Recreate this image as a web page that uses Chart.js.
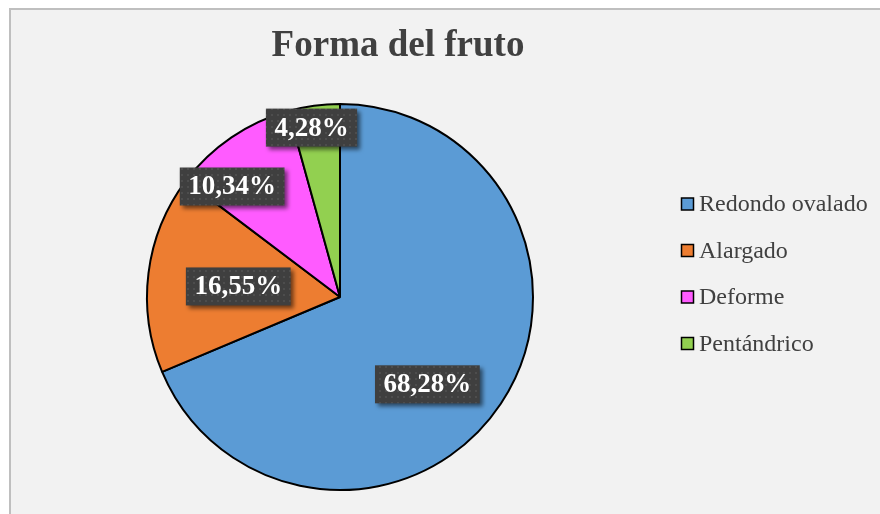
<!DOCTYPE html>
<html>
<head>
<meta charset="utf-8">
<script src="https://cdn.jsdelivr.net/npm/chart.js@4.4.9/dist/chart.umd.min.js"></script>
<style>
  html, body { margin: 0; padding: 0; background: #ffffff; }
  #frame {
    position: absolute;
    left: 9px;
    top: 8px;
    width: 869px;
    height: 504px;
    border-left: 2px solid #bfbfbf;
    border-top: 2px solid #bfbfbf;
    background: #f2f2f2;
  }
  canvas { display: block; }
</style>
</head>
<body>
<div id="frame"><canvas id="chart" width="869" height="504"></canvas></div>
<script>
const titleText = "Forma del fruto";
const categories = ["Redondo ovalado", "Alargado", "Deforme", "Pentándrico"];
const shares = [68.28, 16.55, 10.34, 4.28];
const sliceColors = ["#5b9bd5", "#ed7d31", "#ff5bff", "#92d050"];

// where each data label sits: angle shift from the slice middle (deg) and radius fraction
const labelShift = [11.4, -1.2, -10.1, -1.8];
const labelRadius = [0.64, 0.53, 0.80, 0.89];

const fmt = (v) => v.toFixed(2).replace(".", ",") + "%";

function makeDotPattern(ctx) {
  const p = document.createElement("canvas");
  p.width = 6;
  p.height = 6;
  const pc = p.getContext("2d");
  pc.fillStyle = "#3f3f3f";
  pc.fillRect(0, 0, 6, 6);
  pc.fillStyle = "#4d4d4d";
  pc.fillRect(2, 2, 2, 2);
  return ctx.createPattern(p, "repeat");
}

const decorations = {
  id: "decorations",
  afterDraw(chart) {
    const ctx = chart.ctx;
    const meta = chart.getDatasetMeta(0);

    // title
    ctx.save();
    ctx.fillStyle = "#404040";
    ctx.font = "bold 37px 'Liberation Serif', 'Times New Roman', serif";
    ctx.textAlign = "center";
    ctx.textBaseline = "middle";
    ctx.fillText(titleText, 387, 36);
    ctx.restore();

    // data labels
    const pattern = makeDotPattern(ctx);
    meta.data.forEach((arc, i) => {
      const mid = (arc.startAngle + arc.endAngle) / 2 + labelShift[i] * Math.PI / 180;
      const r = arc.outerRadius * labelRadius[i];
      const x = arc.x + Math.cos(mid) * r;
      const y = arc.y + Math.sin(mid) * r;
      const text = fmt(shares[i]);

      ctx.save();
      ctx.font = "bold 27px 'Liberation Serif', 'Times New Roman', serif";
      const w = ctx.measureText(text).width + 17;
      const h = 38;
      ctx.shadowColor = "rgba(0,0,0,0.55)";
      ctx.shadowBlur = 4;
      ctx.shadowOffsetX = 3;
      ctx.shadowOffsetY = 3;
      ctx.fillStyle = pattern;
      ctx.fillRect(x - w / 2, y - h / 2, w, h);
      ctx.shadowColor = "transparent";
      ctx.fillStyle = "#ffffff";
      ctx.textAlign = "center";
      ctx.textBaseline = "middle";
      ctx.fillText(text, x, y + 1);
      ctx.restore();
    });

    // legend
    ctx.save();
    ctx.font = "24px 'Liberation Serif', 'Times New Roman', serif";
    ctx.textBaseline = "middle";
    categories.forEach((name, i) => {
      const y = 194 + i * 46.5;
      ctx.fillStyle = sliceColors[i];
      ctx.fillRect(670.5, y - 6, 12, 12);
      ctx.strokeStyle = "#000000";
      ctx.lineWidth = 1.5;
      ctx.strokeRect(670.5, y - 6, 12, 12);
      ctx.fillStyle = "#404040";
      ctx.fillText(name, 688, y + 1);
    });
    ctx.restore();
  }
};

new Chart(document.getElementById("chart"), {
  type: "pie",
  data: {
    labels: categories,
    datasets: [{
      data: shares,
      backgroundColor: sliceColors,
      borderColor: "#000000",
      borderWidth: 2,
      hoverOffset: 0
    }]
  },
  options: {
    responsive: false,
    animation: false,
    layout: { padding: { top: 93, bottom: 23, left: 0, right: 211 } },
    plugins: {
      legend: { display: false },
      title: { display: false },
      tooltip: { enabled: false }
    }
  },
  plugins: [decorations]
});
</script>
</body>
</html>
